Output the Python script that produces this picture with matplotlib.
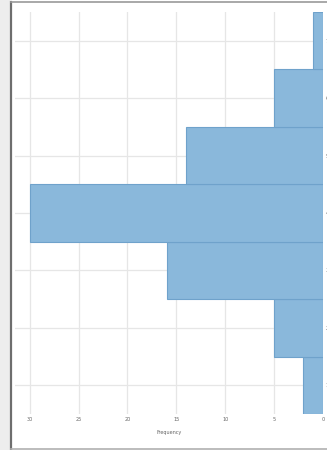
import matplotlib
matplotlib.use("Agg")
import matplotlib.pyplot as plt
from matplotlib.patches import Rectangle
from matplotlib.lines import Line2D

# Histogram counts per bin, bottom bin first
bin_edges = [0, 1, 2, 3, 4, 5, 6, 7]
counts = [2, 5, 16, 30, 14, 5, 1]
bin_labels = ["1", "2", "3", "4", "5", "6", "7"]
x_ticks = [30, 25, 20, 15, 10, 5, 0]
x_label = "Frequency"

W, H = 327, 450
fig = plt.figure(figsize=(W / 100, H / 100), dpi=100)
fig.patch.set_facecolor("white")

# light grey strip and frame around the panel
fig.add_artist(Rectangle((0, 0), 10 / W, 1, transform=fig.transFigure,
                         facecolor="#ededed", edgecolor="none", zorder=0))
fig.add_artist(Line2D([10.5 / W, 10.5 / W], [1.5 / H, 1 - 1.5 / H],
                      transform=fig.transFigure, color="#6e6e6e", lw=1.6))
fig.add_artist(Line2D([10.5 / W, 1], [1 - 1.5 / H, 1 - 1.5 / H],
                      transform=fig.transFigure, color="#9a9a9a", lw=1.2))
fig.add_artist(Line2D([10.5 / W, 1], [1.5 / H, 1.5 / H],
                      transform=fig.transFigure, color="#b0b0b0", lw=1.2))

ax = fig.add_axes([15 / W, 36 / H, (323 - 15) / W, (414 - 12) / H])
ax.set_facecolor("white")

lefts = bin_edges[:-1]
heights = [b - a for a, b in zip(bin_edges[:-1], bin_edges[1:])]
ax.barh(lefts, counts, height=heights, align="edge",
        color="#8ab8db", edgecolor="#6fa2cb", linewidth=0.8, zorder=2)

ax.set_xlim(31.5, 0)
ax.set_ylim(bin_edges[0], bin_edges[-1])
ax.set_xticks(x_ticks)
ax.set_xticklabels([str(t) for t in x_ticks])
centers = [(a + b) / 2 for a, b in zip(bin_edges[:-1], bin_edges[1:])]
ax.set_yticks(centers)
ax.set_yticklabels(bin_labels)
ax.yaxis.tick_right()

ax.grid(True, color="#e6e6e6", linewidth=0.9, zorder=0)
ax.set_axisbelow(True)
for s in ax.spines.values():
    s.set_visible(False)
ax.tick_params(axis="both", length=0, labelsize=3.5, colors="#666666", pad=2)
ax.set_xlabel(x_label, fontsize=3.5, color="#666666", labelpad=6)

fig.savefig("out.png", dpi=100)
